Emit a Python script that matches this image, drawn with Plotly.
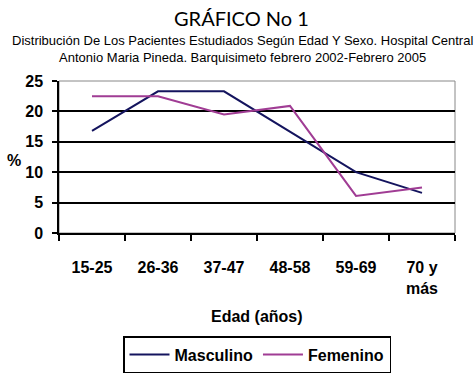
import plotly.graph_objects as go

categories = ["15-25", "26-36", "37-47", "48-58", "59-69", "70 y<br>más"]
masculino = [16.8, 23.3, 23.3, 16.7, 10.0, 6.6]
femenino = [22.5, 22.5, 19.5, 20.9, 6.1, 7.5]
y_ticks = [0, 5, 10, 15, 20, 25]

fig = go.Figure()
fig.add_trace(go.Scatter(x=categories, y=masculino, mode="lines", name="Masculino",
                         line=dict(color="#14145e", width=2)))
fig.add_trace(go.Scatter(x=categories, y=femenino, mode="lines", name="Femenino",
                         line=dict(color="#a03c94", width=2)))

bold = dict(family="Liberation Sans, Arial, sans-serif", size=16, color="black")

fig.update_layout(
    width=474, height=374,
    margin=dict(l=59, r=19, t=81, b=141, autoexpand=False),
    paper_bgcolor="white", plot_bgcolor="white",
    showlegend=True,
    legend=dict(orientation="h", x=0.5, xanchor="center", y=-0.8, yanchor="middle",
                bordercolor="black", borderwidth=1.5,
                font=dict(family="Liberation Sans, Arial, sans-serif", size=16, color="black", weight="bold"),
                itemwidth=40, tracegroupgap=0),
    xaxis=dict(type="category", showgrid=False, showline=True, linecolor="black", linewidth=1.5,
               ticks="outside", tickson="boundaries", ticklen=6, tickcolor="black", tickwidth=1.5,
               tickfont=dict(**bold, weight="bold"), ticklabelstandoff=19, automargin=False,
               range=[-0.5, 5.5], mirror=False),
    yaxis=dict(range=[0, 25], tickvals=y_ticks, showgrid=True, gridcolor="black", gridwidth=1.5,
               showline=True, linecolor="black", linewidth=1.5, ticks="outside", ticklen=5,
               tickcolor="black", tickwidth=1.5, tickfont=dict(**bold, weight="bold"), zeroline=False,
               ticklabelstandoff=6, automargin=False),
    shapes=[dict(type="rect", xref="paper", yref="paper", x0=0, x1=1, y0=0, y1=1,
                 line=dict(color="#888888", width=1), layer="below")],
    annotations=[
        dict(text="GRÁFICO No 1", xref="paper", yref="paper", x=(241.5-59)/396, y=(233-18)/152,
             xanchor="center", yanchor="middle", showarrow=False,
             font=dict(family="Lato, Noto Sans, sans-serif", size=20, color="black")),
        dict(text="Distribución De Los Pacientes Estudiados Según Edad Y Sexo. Hospital Central<br>Antonio Maria Pineda. Barquisimeto febrero 2002-Febrero 2005",
             xref="paper", yref="paper", x=(242-59)/396, y=(233-49)/152,
             xanchor="center", yanchor="middle", showarrow=False, align="center",
             font=dict(family="Liberation Sans, Arial, sans-serif", size=13, color="black")),
        dict(text="<b>%</b>", xref="paper", yref="paper", x=(14-59)/396, y=(233-160)/152,
             xanchor="center", yanchor="middle", showarrow=False, font=bold),
        dict(text="<b>Edad (años)</b>", xref="paper", yref="paper", x=(257-59)/396, y=(233-316)/152,
             xanchor="center", yanchor="middle", showarrow=False, font=bold),
    ],
)

fig.write_html("out.html", config={"displayModeBar": False},
               post_script="document.body.style.margin='0';")
